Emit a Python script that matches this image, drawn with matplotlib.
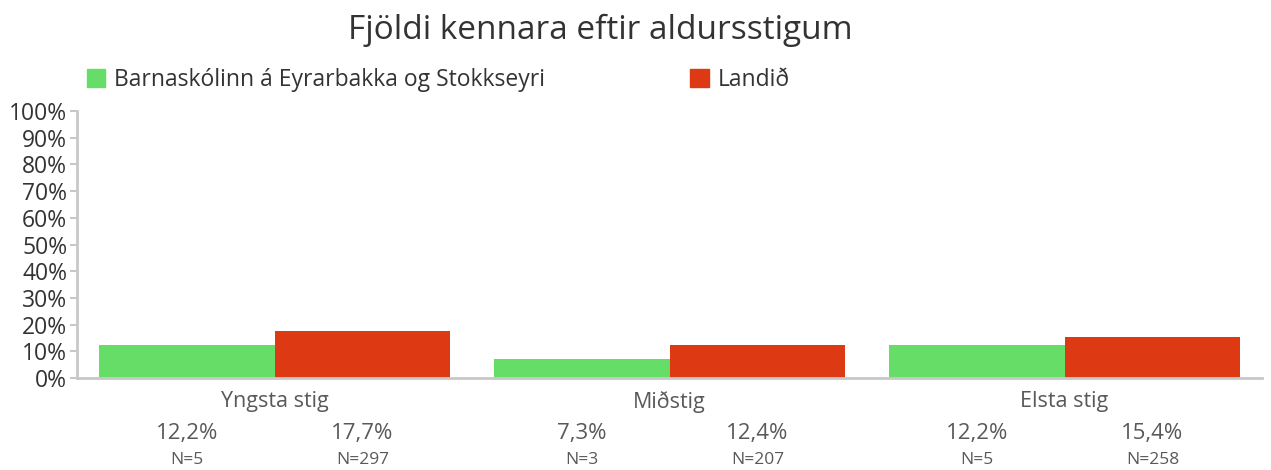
import numpy as np
import matplotlib.pyplot as plt
from matplotlib.patches import Patch

# data
categories = ["Yngsta stig", "Miðstig", "Elsta stig"]
series_names = ["Barnaskólinn á Eyrarbakka og Stokkseyri", "Landið"]
school_pct = [12.2, 7.3, 12.2]
land_pct = [17.7, 12.4, 15.4]
school_n = [5, 3, 5]
land_n = [297, 207, 258]

green = "#66dd66"
red = "#dd3a14"
grey = "#595959"

plt.rcParams["font.family"] = ["Open Sans", "DejaVu Sans"]

fig = plt.figure(figsize=(12.71, 4.70), dpi=100)
ax = fig.add_axes([0.0606, 0.1957, 0.9324, 0.5681])

x = np.arange(len(categories))
w = 0.445
ax.bar(x - w / 2, school_pct, width=w, color=green, zorder=2)
ax.bar(x + w / 2, land_pct, width=w, color=red, zorder=2)

ax.set_xlim(-0.5, len(categories) - 0.5)
ax.set_ylim(0, 100)
ax.set_yticks(range(0, 101, 10))
ax.set_yticklabels([f"{v}%" for v in range(0, 101, 10)], fontsize=16.5, color="#333333")
ax.set_xticks([])

for s in ["top", "right"]:
    ax.spines[s].set_visible(False)
for s in ["left", "bottom"]:
    ax.spines[s].set_color("#c8c8c8")
    ax.spines[s].set_linewidth(2)
ax.tick_params(axis="y", colors="#c8c8c8", length=5, width=1.5, pad=2, labelcolor="#333333")

# labels below the axis
for i, cat in enumerate(categories):
    ax.annotate(cat, (x[i], 0), xycoords="data", xytext=(0, -17), textcoords="offset points",
                ha="center", va="center", fontsize=15.5, color=grey)
    for xx, pct, n in [(x[i] - w / 2, school_pct[i], school_n[i]), (x[i] + w / 2, land_pct[i], land_n[i])]:
        ax.annotate(f"{pct:.1f}%".replace(".", ","), (xx, 0), xycoords="data", xytext=(0, -40),
                    textcoords="offset points", ha="center", va="center", fontsize=16, color=grey)
        ax.annotate(f"N={n}", (xx, 0), xycoords="data", xytext=(0, -59),
                    textcoords="offset points", ha="center", va="center", fontsize=12.5, color=grey)

fig.text(0.472, 0.935, "Fjöldi kennara eftir aldursstigum", ha="center", va="center",
         fontsize=24, color="#333333")

handles = [Patch(color=green), Patch(color=red)]
fig.legend(handles[:1], series_names[:1], loc="center left", bbox_to_anchor=(0.052, 0.83),
           frameon=False, fontsize=16.5, handlelength=0.8, handleheight=0.8, handletextpad=0.4,
           labelcolor="#333333")
fig.legend(handles[1:], series_names[1:], loc="center left", bbox_to_anchor=(0.527, 0.83),
           frameon=False, fontsize=16.5, handlelength=0.8, handleheight=0.8, handletextpad=0.4,
           labelcolor="#333333")

fig.savefig("out.png", dpi=100)
